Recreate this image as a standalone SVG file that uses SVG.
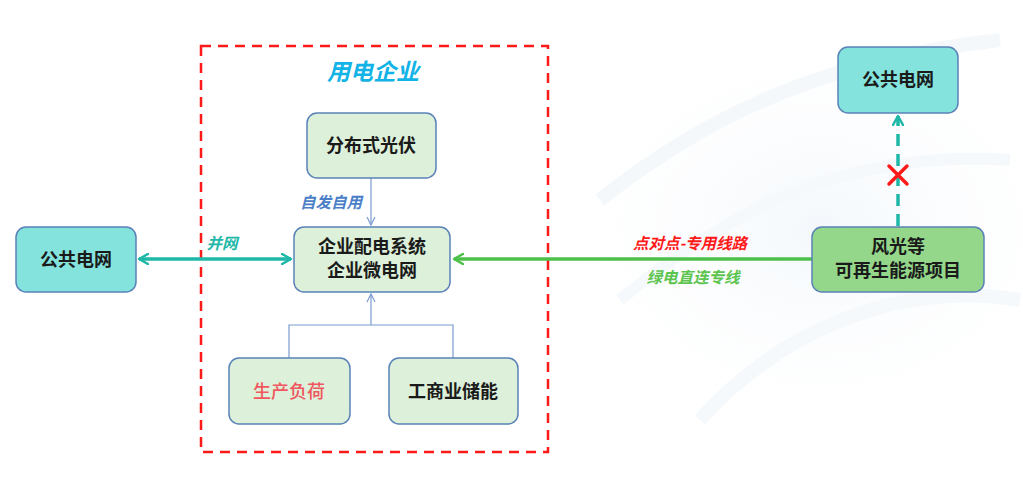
<svg xmlns="http://www.w3.org/2000/svg" width="1023" height="483" viewBox="0 0 1023 483">
<defs>
<style>
.box{stroke:#5a82b8;stroke-width:1.5}
.teal{fill:#84e3dd}
.lg{fill:#ddf0d9}
.dg{fill:#94d78b}
.t{font-family:"Noto Sans CJK SC","Noto Sans",sans-serif;font-size:18px;font-weight:bold;fill:#1a1a1a;text-anchor:middle}
.lbl{font-family:"Noto Sans CJK SC","Noto Sans",sans-serif;font-size:15.5px;font-weight:bold;font-style:italic;text-anchor:middle}
</style>
<marker id="mt" viewBox="0 0 12 12" refX="10" refY="6" markerWidth="12" markerHeight="12" markerUnits="userSpaceOnUse" orient="auto-start-reverse">
<path d="M1,1 L10,6 L1,11" fill="none" stroke="#1fb8a8" stroke-width="2.5" stroke-linecap="round" stroke-linejoin="round"/>
</marker>
<marker id="mg" viewBox="0 0 12 12" refX="10" refY="6" markerWidth="12" markerHeight="12" markerUnits="userSpaceOnUse" orient="auto">
<path d="M1,1 L10,6 L1,11" fill="none" stroke="#4cc04a" stroke-width="2.5" stroke-linecap="round" stroke-linejoin="round"/>
</marker>
<marker id="mb" viewBox="0 0 10 10" refX="9" refY="5" markerWidth="10" markerHeight="10" markerUnits="userSpaceOnUse" orient="auto">
<path d="M1,1 L9,5 L1,9" fill="none" stroke="#7a9bd0" stroke-width="1.2"/>
</marker>
<radialGradient id="bg" cx="0.5" cy="0.5" r="0.5">
<stop offset="0" stop-color="#eaf3fa" stop-opacity="0.9"/>
<stop offset="1" stop-color="#ffffff" stop-opacity="0"/>
</radialGradient>
</defs>
<rect width="1023" height="483" fill="#ffffff"/>
<g id="background" opacity="0.6">
<ellipse cx="820" cy="230" rx="260" ry="200" fill="url(#bg)"/>
<path d="M600,200 C700,120 820,60 1000,40" fill="none" stroke="#eef5fa" stroke-width="14"/>
<path d="M620,300 C740,200 860,150 1010,160" fill="none" stroke="#f0f6fb" stroke-width="12"/>
<path d="M700,420 C780,330 900,280 1020,300" fill="none" stroke="#f0f6fb" stroke-width="14"/>
</g>
<g id="enterprise-frame">
<rect x="201" y="46" width="347" height="406" fill="none" stroke="#ff1a1a" stroke-width="2.5" stroke-dasharray="10,7"/>
<text x="373" y="80" font-family="'Noto Sans CJK SC',sans-serif" font-size="23" font-weight="bold" font-style="italic" fill="#12b3e6" text-anchor="middle">用电企业</text>
</g>
<g id="connectors">
<line x1="139" y1="259" x2="291" y2="259" stroke="#1fb8a8" stroke-width="3.5" marker-start="url(#mt)" marker-end="url(#mt)"/>
<text x="222" y="249" class="lbl" fill="#1fb8a8">并网</text>
<line x1="371" y1="178" x2="371" y2="225" stroke="#7a9bd0" stroke-width="1.2" marker-end="url(#mb)"/>
<text x="331" y="208" class="lbl" fill="#4a7fc8">自发自用</text>
<polyline points="289,358 289,325 453,325 453,358" fill="none" stroke="#7a9bd0" stroke-width="1.2"/>
<line x1="371" y1="325" x2="371" y2="294" stroke="#7a9bd0" stroke-width="1.2" marker-end="url(#mb)"/>
<line x1="812" y1="259" x2="454" y2="259" stroke="#4cc04a" stroke-width="3.5" marker-end="url(#mg)"/>
<text x="690" y="249" class="lbl" fill="#ff1a1a">点对点-专用线路</text>
<text x="693" y="283" class="lbl" fill="#5cc44f">绿电直连专线</text>
<line x1="898" y1="226" x2="898" y2="116" stroke="#1fb8a8" stroke-width="3.5" stroke-dasharray="12,8" marker-end="url(#mt)"/>
<path d="M889,166 L907,184 M907,166 L889,184" stroke="#ff1a1a" stroke-width="3.5" stroke-linecap="round"/>
</g>
<g id="grid-left">
<rect class="box teal" x="16" y="227" width="120" height="65" rx="10"/>
<text class="t" x="76" y="266">公共电网</text>
</g>
<g id="pv">
<rect class="box lg" x="307" y="113" width="129" height="65" rx="10"/>
<text class="t" x="371" y="152">分布式光伏</text>
</g>
<g id="microgrid">
<rect class="box lg" x="294" y="227" width="156" height="65" rx="10"/>
<text class="t" x="372" y="253">企业配电系统</text>
<text class="t" x="372" y="277">企业微电网</text>
</g>
<g id="load">
<rect class="box lg" x="229" y="358" width="121" height="66" rx="10"/>
<text class="t" x="289" y="398" style="fill:#f0575e;font-weight:500">生产负荷</text>
</g>
<g id="storage">
<rect class="box lg" x="389" y="358" width="129" height="66" rx="10"/>
<text class="t" x="453" y="398">工商业储能</text>
</g>
<g id="renewable">
<rect class="box dg" x="812" y="227" width="172" height="65" rx="10"/>
<text class="t" x="898" y="253">风光等</text>
<text class="t" x="898" y="277">可再生能源项目</text>
</g>
<g id="grid-top">
<rect class="box teal" x="838" y="47" width="120" height="66" rx="10"/>
<text class="t" x="898" y="86">公共电网</text>
</g>
</svg>
